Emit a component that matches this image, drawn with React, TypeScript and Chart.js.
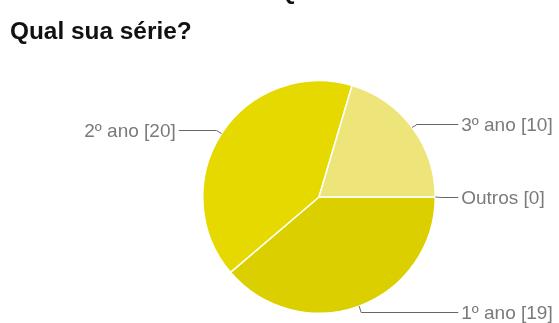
import React, { useEffect, useRef } from "react";
import { Chart, registerables } from "chart.js";

Chart.register(...registerables);

const title = "Qual sua série?";
const categories = ["1º ano", "2º ano", "3º ano", "Outros"];
const counts = [19, 20, 10, 0];
const sliceColors = ["#dccf00", "#e6d900", "#ede57a", "#e9e24f"];

const labelPlugin = {
  id: "pieLabels",
  afterDraw(chart: any) {
    const ctx = chart.ctx;
    ctx.save();
    // clipped glyph at very top
    ctx.fillStyle = "#111";
    ctx.font = "bold 24px 'Liberation Sans', Arial, sans-serif";
    ctx.textBaseline = "alphabetic";
    ctx.textAlign = "left";
    ctx.fillText("Q", 278, -1.5);
    // title
    ctx.font = "bold 24.4px 'Liberation Sans', Arial, sans-serif";
    ctx.fillText(title, 10, 38.5);

    const meta = chart.getDatasetMeta(0);
    ctx.font = "19px 'Liberation Sans', Arial, sans-serif";
    ctx.textBaseline = "middle";
    meta.data.forEach((arc: any, i: number) => {
      const mid = (arc.startAngle + arc.endAngle) / 2;
      const r = arc.outerRadius;
      const cx = arc.x;
      const cy = arc.y;
      const px = cx + r * Math.cos(mid);
      const py = cy + r * Math.sin(mid);
      const ex = cx + (r + 6) * Math.cos(mid);
      const ey = cy + (r + 6) * Math.sin(mid);
      const right = Math.cos(mid) >= -1e-6;
      const endX = right ? cx + r + 23 : cx - r - 24;
      ctx.strokeStyle = "#666";
      ctx.lineWidth = 1;
      ctx.beginPath();
      ctx.moveTo(px, py);
      ctx.lineTo(ex, Math.round(ey) + 0.5);
      ctx.lineTo(endX, Math.round(ey) + 0.5);
      ctx.stroke();
      ctx.fillStyle = "#7a7a7a";
      ctx.textAlign = right ? "left" : "right";
      const text = `${categories[i]} [${counts[i]}]`;
      ctx.fillText(text, right ? endX + 3 : endX - 3, Math.round(ey) + 1.5);
    });
    ctx.restore();
  },
};

export default function App() {
  const ref = useRef<HTMLCanvasElement>(null);
  useEffect(() => {
    document.body.style.margin = "0";
    const chart = new Chart(ref.current!, {
      type: "pie",
      data: {
        labels: categories,
        datasets: [
          {
            data: counts,
            backgroundColor: sliceColors,
            borderColor: "#ffffff",
            borderWidth: 1.5,
          },
        ],
      },
      options: {
        responsive: false,
        animation: false,
        rotation: 90,
        layout: { padding: { left: 202, right: 123, top: 80, bottom: 9 } },
        plugins: {
          legend: { display: false },
          tooltip: { enabled: false },
          title: { display: false },
        },
      },
      plugins: [labelPlugin],
    });
    return () => chart.destroy();
  }, []);
  return (
    <div style={{ position: "absolute", left: 0, top: 0, width: 559, height: 323, background: "#fff" }}>
      <canvas ref={ref} width={559} height={323} style={{ display: "block" }} />
    </div>
  );
}
